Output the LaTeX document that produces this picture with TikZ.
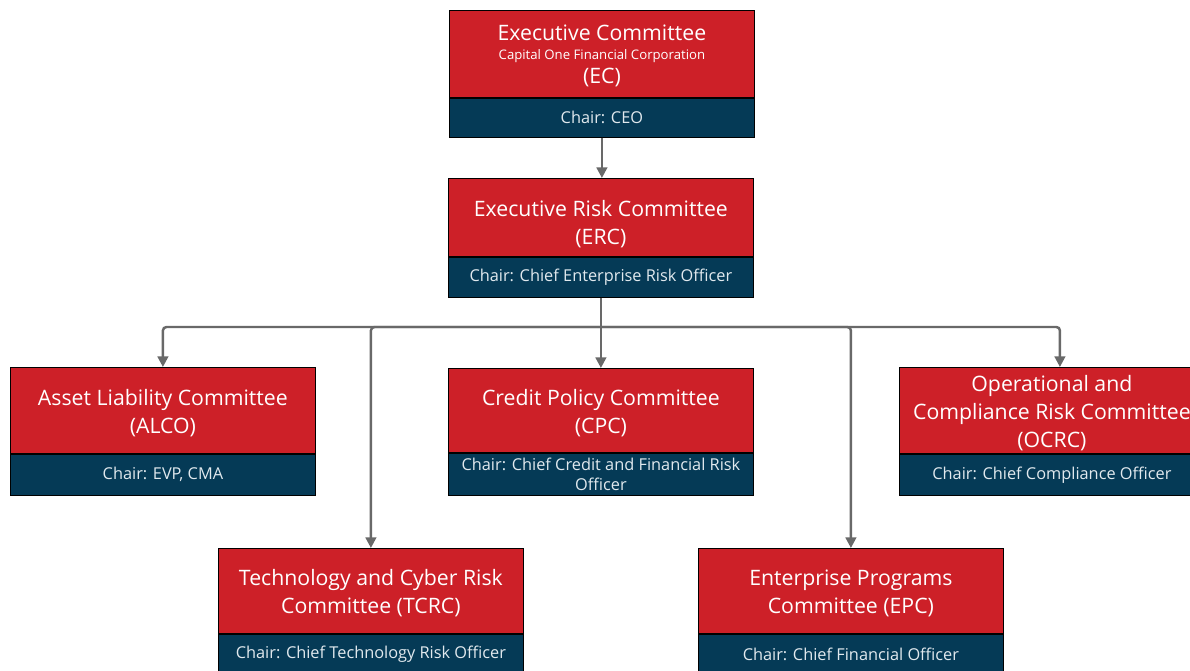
\documentclass[tikz,border=0pt]{standalone}
\usepackage{fontspec}
\setmainfont{Open Sans}
\usetikzlibrary{arrows.meta,positioning}
\definecolor{cmtred}{RGB}{205,32,40}
\definecolor{chairblue}{RGB}{5,58,86}
\definecolor{chairtext}{RGB}{225,233,238}
\definecolor{linegray}{RGB}{105,105,105}

\begin{document}
\begin{tikzpicture}[
  x=0.02cm, y=-0.02cm,
  cmte/.style={draw=black, line width=0.5pt, fill=cmtred, text=white, minimum width=6.1cm, minimum height=1.72cm, align=center, inner sep=0pt, anchor=north west, font=\fontsize{12.1}{15.9}\selectfont},
  chair/.style={draw=black, line width=0.5pt, fill=chairblue, text=chairtext, minimum width=6.1cm, minimum height=0.82cm, align=center, inner sep=0pt, font=\fontsize{9.3}{11.4}\selectfont},
  line/.style={-{Triangle[length=6pt,width=6pt]}, linegray, line width=1.4pt, rounded corners=2pt}
]
\useasboundingbox (0,0) rectangle (1190,671);

% top of the chain
\node[cmte, minimum height=1.74cm] (ec) at (449,10) {\rule{0pt}{11pt}Executive Committee\\[-5pt]{\fontsize{7.5}{9}\selectfont Capital One Financial Corporation}\\[-2pt](EC)};
\node[chair, minimum height=0.78cm, below=0pt of ec] (ecchair) {Chair: CEO};
\node[cmte, minimum height=1.56cm] (erc) at (448,178) {\rule{0pt}{17pt}Executive Risk Committee\\(ERC)};
\node[chair, minimum height=0.8cm, below=0pt of erc] (ercchair) {Chair: Chief Enterprise Risk Officer};

% first row
\node[cmte] (alco) at (10,367) {\rule{0pt}{12pt}Asset Liability Committee\\(ALCO)};
\node[chair, below=0pt of alco] (alcochair) {Chair: EVP, CMA};
\node[cmte, minimum height=1.68cm] (cpc) at (448,368) {\rule{0pt}{12pt}Credit Policy Committee\\(CPC)};
\node[chair, minimum height=0.84cm, below=0pt of cpc] (cpcchair) {Chair: Chief Credit and Financial Risk\\Officer};
\node[cmte] (ocrc) at (899,367) {\rule{0pt}{12pt}Operational and\\Compliance Risk Committee\\(OCRC)};
\node[chair, below=0pt of ocrc] (ocrcchair) {Chair: Chief Compliance Officer};

% second row
\node[cmte, minimum height=1.7cm] (tcrc) at (218,548) {\rule{0pt}{12pt}Technology and Cyber Risk\\Committee (TCRC)};
\node[chair, minimum height=0.8cm, below=0pt of tcrc] (tcrcchair) {Chair: Chief Technology Risk Officer};
\node[cmte, minimum height=1.7cm] (epc) at (698,548) {\rule{0pt}{12pt}Enterprise Programs\\Committee (EPC)};
\node[chair, minimum height=0.8cm, below=0pt of epc] (epcchair) {Chair: Chief Financial Officer};

\coordinate (bus) at (601,327);

\draw[line] (ecchair.south) -- (ecchair.south |- erc.north);
\draw[line] (ercchair.south) -- (cpc.north);
\draw[line] (bus) -| (alco.north);
\draw[line] (bus) -| (tcrc.north);
\draw[line] (bus) -| (epc.north);
\draw[line] (bus) -| ([xshift=0.16cm]ocrc.north);
\end{tikzpicture}
\end{document}
